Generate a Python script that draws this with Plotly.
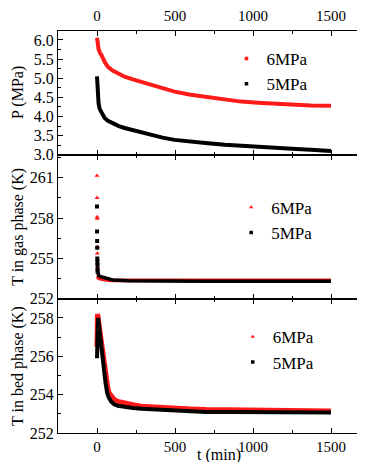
import plotly.graph_objects as go

# ---- data ----
t_p6 = [0, 2, 5, 10, 20, 28, 50, 70, 100, 140, 177, 230, 284, 350, 420, 497, 600, 711, 820, 924, 1030, 1137, 1250, 1370, 1500]
p6 = [6.06, 5.95, 5.85, 5.76, 5.66, 5.61, 5.42, 5.30, 5.20, 5.11, 5.04, 4.97, 4.91, 4.83, 4.75, 4.65, 4.57, 4.50, 4.44, 4.39, 4.36, 4.33, 4.31, 4.29, 4.28]
t_p5 = [0, 2, 5, 10, 17, 30, 49, 70, 100, 140, 177, 230, 284, 350, 420, 497, 600, 711, 820, 924, 1030, 1137, 1250, 1370, 1500]
p5 = [5.05, 4.85, 4.60, 4.35, 4.20, 4.08, 3.96, 3.89, 3.82, 3.75, 3.70, 3.64, 3.58, 3.51, 3.45, 3.39, 3.34, 3.30, 3.26, 3.23, 3.21, 3.19, 3.16, 3.13, 3.10]

t_spike = [0, 0.5, 1, 1.5, 2, 2.5, 3, 3.5, 4]
gas6_spike = [261.15, 259.5, 258.07, 257.95, 255.86, 255.37, 254.9, 254.6, 254.3]
gas5_spike = [258.86, 257.0, 256.3, 255.8, 255.0, 254.75, 254.5, 254.2, 254.0]
t_gas = [5, 10, 20, 40, 70, 100, 200, 400, 700, 1000, 1300, 1500]
gas6 = [253.7, 253.55, 253.5, 253.45, 253.4, 253.38, 253.37, 253.37, 253.36, 253.36, 253.36, 253.36]
gas5 = [254.0, 253.75, 253.65, 253.6, 253.5, 253.4, 253.33, 253.3, 253.3, 253.3, 253.3, 253.3]

t_bed6 = [0, 1, 2, 3, 5, 8, 12, 18, 28, 38, 49, 60, 70, 80, 92, 110, 134, 180, 230, 284, 400, 497, 600, 700, 850, 1000, 1200, 1500]
bed6 = [256.5, 257.5, 258.0, 258.2, 258.15, 258.0, 257.7, 257.3, 256.8, 256.1, 255.4, 254.8, 254.3, 254.05, 253.9, 253.75, 253.65, 253.55, 253.47, 253.4, 253.33, 253.3, 253.25, 253.22, 253.2, 253.18, 253.16, 253.15]
t_bed5 = [0, 1, 2, 3, 5, 7, 10, 15, 25, 35, 45, 55, 65, 75, 90, 110, 134, 180, 230, 284, 400, 497, 600, 700, 850, 1000, 1200, 1500]
bed5 = [255.9, 256.3, 257.0, 257.6, 257.9, 258.0, 257.8, 257.4, 256.7, 255.9, 255.2, 254.6, 254.1, 253.85, 253.65, 253.5, 253.42, 253.35, 253.3, 253.27, 253.22, 253.18, 253.14, 253.1, 253.09, 253.08, 253.08, 253.07]

labels = ["6MPa", "5MPa"]
x_ticks = [0, 500, 1000, 1500]

RED = "#ff1a1a"
BLK = "#000000"
FONT = "Liberation Serif, Times New Roman, serif"
FX = 15   # x tick labels
FY = 16   # y tick labels
FL = 17   # legend
FT = 16   # axis titles

fig = go.Figure()

def leg_marker(sym, color, size, legend, xa, ya, name):
    return go.Scatter(x=[None], y=[None], mode="markers", name=name,
                      marker=dict(symbol=sym, color=color, size=size, line=dict(width=0)),
                      legend=legend, xaxis=xa, yaxis=ya)

# panel 1 (pressure)
fig.add_trace(go.Scatter(x=t_p6, y=p6, mode="lines", line=dict(color=RED, width=4), showlegend=False, xaxis="x", yaxis="y"))
fig.add_trace(go.Scatter(x=t_p5, y=p5, mode="lines", line=dict(color=BLK, width=4), showlegend=False, xaxis="x", yaxis="y"))
fig.add_trace(leg_marker("square", RED, 3.5, "legend", "x", "y", labels[0]))
fig.add_trace(leg_marker("square", BLK, 3.5, "legend", "x", "y", labels[1]))

# panel 2 (gas phase)
fig.add_trace(go.Scatter(x=t_gas, y=gas6, mode="lines", line=dict(color=RED, width=4), showlegend=False, xaxis="x2", yaxis="y2"))
fig.add_trace(go.Scatter(x=t_gas, y=gas5, mode="lines", line=dict(color=BLK, width=3.5), showlegend=False, xaxis="x2", yaxis="y2"))
fig.add_trace(go.Scatter(x=t_spike, y=gas6_spike, mode="markers", marker=dict(symbol="triangle-up", color=RED, size=4.5, line=dict(width=0)), showlegend=False, xaxis="x2", yaxis="y2"))
fig.add_trace(go.Scatter(x=t_spike, y=gas5_spike, mode="markers", marker=dict(symbol="square", color=BLK, size=4, line=dict(width=0)), showlegend=False, xaxis="x2", yaxis="y2"))
fig.add_trace(leg_marker("triangle-up", RED, 4, "legend2", "x2", "y2", labels[0]))
fig.add_trace(leg_marker("square", BLK, 3.5, "legend2", "x2", "y2", labels[1]))

# panel 3 (bed phase)
fig.add_trace(go.Scatter(x=t_bed6, y=bed6, mode="lines", line=dict(color=RED, width=5), showlegend=False, xaxis="x3", yaxis="y3"))
fig.add_trace(go.Scatter(x=t_bed5, y=bed5, mode="lines", line=dict(color=BLK, width=4), showlegend=False, xaxis="x3", yaxis="y3"))
fig.add_trace(leg_marker("triangle-up", RED, 4, "legend3", "x3", "y3", labels[0]))
fig.add_trace(leg_marker("square", BLK, 3.5, "legend3", "x3", "y3", labels[1]))

base = dict(showline=True, linecolor="black", linewidth=1, mirror="allticks", automargin=False,
            ticks="inside", ticklen=5, tickcolor="black", showgrid=False, zeroline=False)
xax = dict(**base, tickfont=dict(family=FONT, size=FX, color="black"))
yax = dict(**base, tickfont=dict(family=FONT, size=FY, color="black"))
minor_x = dict(ticks="inside", ticklen=3, dtick=250, tickcolor="black", showgrid=False)

x_range = [-250, 1750]
D1 = [0.692, 1.0]
D2 = [0.334, 0.692]
D3 = [0.0, 0.334]

legend_common = dict(font=dict(family=FONT, size=FL, color="black"), bgcolor="rgba(0,0,0,0)",
                     itemwidth=30, tracegroupgap=0)

fig.update_layout(
    width=365, height=462,
    margin=dict(l=50, r=3, t=23, b=37),
    paper_bgcolor="white", plot_bgcolor="white",
    font=dict(family=FONT, size=FL, color="black"),
    xaxis=dict(**xax, range=x_range, tickvals=x_ticks, side="top", anchor="y", minor=minor_x,
               ticklabelstandoff=3),
    yaxis=dict(**yax, range=[3.0, 6.235], domain=D1, dtick=0.5, tickformat=".1f", anchor="x",
               minor=dict(ticks="inside", ticklen=3, dtick=0.25, tickcolor="black", showgrid=False)),
    xaxis2=dict(**xax, range=x_range, tickvals=x_ticks, showticklabels=False, anchor="y2", minor=minor_x),
    yaxis2=dict(**yax, range=[252, 262.7], domain=D2, tickvals=[252, 255, 258, 261], anchor="x2",
                minor=dict(ticks="inside", ticklen=3, dtick=1.5, tickcolor="black", showgrid=False)),
    xaxis3=dict(**xax, range=x_range, tickvals=x_ticks, side="bottom", anchor="y3", minor=minor_x),
    yaxis3=dict(**yax, range=[252, 259.0], domain=D3, tickvals=[252, 254, 256, 258], anchor="x3",
                minor=dict(ticks="inside", ticklen=3, dtick=1, tickcolor="black", showgrid=False)),
    legend=dict(**legend_common, x=0.54, y=0.975, xanchor="left", yanchor="top"),
    legend2=dict(**legend_common, x=0.555, y=0.605, xanchor="left", yanchor="top"),
    legend3=dict(**legend_common, x=0.56, y=0.283, xanchor="left", yanchor="top"),
)

# axis titles as annotations (real text)
for txt, dom in [("P (MPa)", D1), ("T in gas phase (K)", D2), ("T in bed phase (K)", D3)]:
    fig.add_annotation(text=txt, xref="paper", yref="paper", x=-0.128, y=(dom[0] + dom[1]) / 2,
                       xanchor="center", yanchor="middle", textangle=-90, showarrow=False,
                       font=dict(family=FONT, size=FT, color="black"))
fig.add_annotation(text="t (min)", xref="paper", yref="paper", x=0.516, y=-0.055,
                   xanchor="center", yanchor="middle", showarrow=False,
                   font=dict(family=FONT, size=FT, color="black"))

fig.write_html("out.html")
